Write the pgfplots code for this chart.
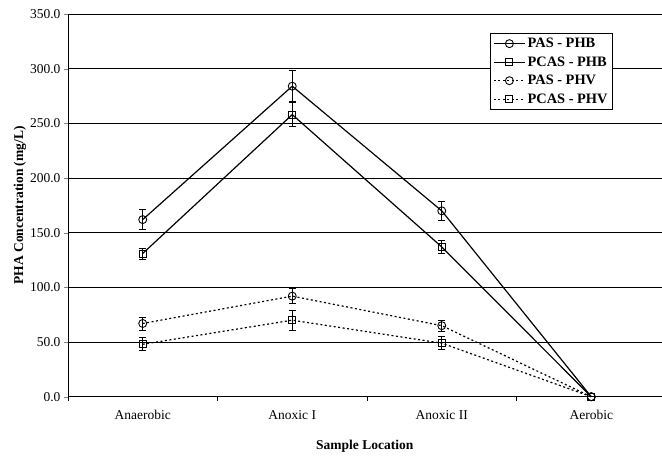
\documentclass[border=0pt]{standalone}
\usepackage{fontspec}
\setmainfont{Liberation Serif}
\usepackage{pgfplots}
\pgfplotsset{compat=1.18}
\begin{document}
\begin{tikzpicture}
\begin{axis}[
  scale only axis,
  width=594pt, height=383pt,
  xmin=-0.5, xmax=3.47,
  ymin=0, ymax=350,
  axis x line=bottom, axis y line=left,
  axis line style={-, black, line width=0.9pt},
  xtick={0,1,2,3},
  xticklabels={Anaerobic, Anoxic I, Anoxic II, Aerobic},
  minor xtick={-0.5,0.5,1.5,2.5},
  major x tick style={draw=none},
  minor x tick style={black, line width=0.6pt},
  ytick={0,50,...,350},
  tick align=outside,
  major tick length=4pt, minor tick length=4pt,
  ymajorgrids,
  grid style={black, line width=0.7pt},
  yticklabel style={/pgf/number format/.cd, fixed, fixed zerofill, precision=1, assume math mode=true},
  ticklabel style={font=\fontsize{13.5}{16}\selectfont},
  xticklabel style={yshift=-6pt},
  xlabel={Sample Location},
  ylabel={PHA Concentration (mg/L)},
  label style={font=\fontsize{13.5}{16}\selectfont\bfseries},
  xlabel style={at={(axis description cs:0.5,-0.13)}, anchor=center},
  ylabel style={at={(axis description cs:-0.081,0.5)}, anchor=center},
  legend style={at={(rel axis cs:0.9175,0.95)}, anchor=north east,
    draw=black, line width=1pt, fill=white,
    font=\fontsize{14.4}{17}\selectfont\bfseries,
    row sep=3.5pt, inner sep=2.5pt},
  legend cell align=left,
  legend image code/.code={%
    \draw[mark repeat=2,mark phase=2] plot coordinates {(0cm,0cm) (0.55cm,0cm) (1.1cm,0cm)};},
  clip=false,
  error bars/error bar style={line width=0.8pt, solid, black},
  error bars/error mark options={rotate=90, mark size=3.5pt, line width=0.8pt, solid, black},
]
\addplot[black, solid, line width=1.2pt, mark=o, mark size=4pt, mark options={solid, fill=white, line width=0.9pt},
  error bars/.cd, y dir=both, y explicit]
  coordinates {(0,162) +- (0,9) (1,284) +- (0,14) (2,170) +- (0,9) (3,0) +- (0,0)};
\addlegendentry{PAS - PHB}
\addplot[black, solid, line width=1.2pt, mark=square, mark size=3.5pt, mark options={solid, fill=white, line width=0.9pt},
  error bars/.cd, y dir=both, y explicit]
  coordinates {(0,131) +- (0,5) (1,258) +- (0,11) (2,137) +- (0,6) (3,0) +- (0,0)};
\addlegendentry{PCAS - PHB}
\addplot[black, dash pattern=on 2pt off 2.5pt, line width=1.2pt, mark=o, mark size=4pt, mark options={solid, fill=white, line width=0.9pt},
  error bars/.cd, y dir=both, y explicit]
  coordinates {(0,67) +- (0,6) (1,92) +- (0,7) (2,65) +- (0,5) (3,0) +- (0,0)};
\addlegendentry{PAS - PHV}
\addplot[black, dash pattern=on 2pt off 2.5pt, line width=1.2pt, mark=square, mark size=3.5pt, mark options={solid, fill=white, line width=0.9pt},
  error bars/.cd, y dir=both, y explicit]
  coordinates {(0,48) +- (0,6) (1,70) +- (0,9) (2,49) +- (0,6) (3,0) +- (0,0)};
\addlegendentry{PCAS - PHV}
\path (rel axis cs:-0.1145,-0.1514) rectangle (rel axis cs:1,1.0366);
\end{axis}
\end{tikzpicture}
\end{document}
